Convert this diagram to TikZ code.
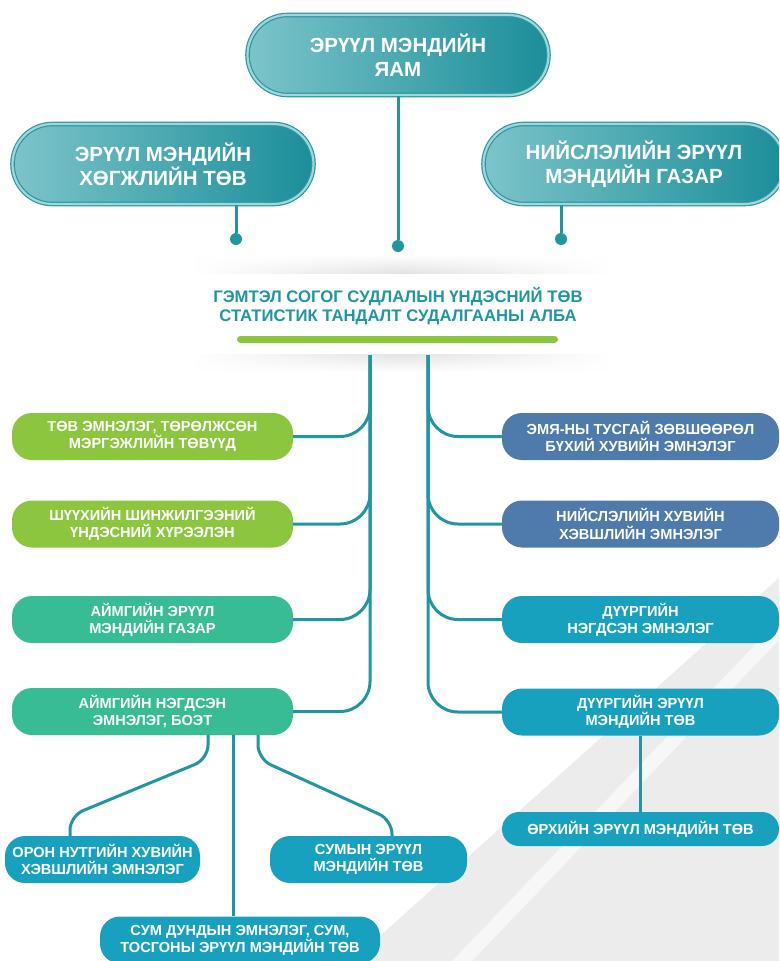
\documentclass[tikz,border=0pt]{standalone}
\usepackage{fontspec}
\setmainfont{Liberation Sans}
\usetikzlibrary{fadings}
\definecolor{lineteal}{HTML}{2196A1}
\definecolor{headdark}{HTML}{1B8E99}
\definecolor{headlight}{HTML}{7CC4CA}
\definecolor{headedge}{HTML}{2A98A3}
\definecolor{boxlime}{HTML}{8CC63F}
\definecolor{boxsea}{HTML}{37BC96}
\definecolor{boxblue}{HTML}{4F7AAC}
\definecolor{boxcyan}{HTML}{18A1BF}
\definecolor{capteal}{HTML}{1E97A2}
\definecolor{bggray}{HTML}{ECECEC}
\tikzfading[name=fade sides, left color=transparent!100,
            right color=transparent!100, middle color=transparent!0]

\begin{document}
\begin{tikzpicture}[
  x=1pt, y=-1pt,
  hd/.style={rounded corners=40, left color=headlight, right color=headdark,
             draw=headedge, line width=1.2, double=headlight!70!white,
             double distance=2.2, text=white, align=center, inner sep=0,
             font=\fontsize{20.5}{24}\selectfont\bfseries,
             minimum width=301, minimum height=80},
  bx/.style={rounded corners=20, fill=#1, text=white, align=center, inner sep=0,
             font=\fontsize{14.6}{17.3}\selectfont\bfseries,
             minimum width=281, minimum height=47},
  cn/.style={draw=lineteal, line width=3},
  knob/.style={circle, fill=lineteal, inner sep=0, minimum size=12}
]
\useasboundingbox (0,0) rectangle (779,961);
\clip (0,0) rectangle (779,961);
\fill[white] (0,0) rectangle (779,961);
\fill[bggray] (779,578) -- (352,961) -- (779,961) -- cycle;
\fill[white!60!bggray] (779,620) -- (779,640) -- (472,961) -- (452,961) -- cycle;

\shade[top color=white, bottom color=black!11, path fading=fade sides]
  (195,255) rectangle (610,273);
\shade[top color=black!11, bottom color=white, path fading=fade sides]
  (195,354) rectangle (610,372);

\node[hd] (hm) at (398,55)  {ЭРҮҮЛ МЭНДИЙН\\ЯАМ};
\node[hd] (hl) at (163,164) {ЭРҮҮЛ МЭНДИЙН\\ХӨГЖЛИЙН ТӨВ};
\node[hd] (hr) at (634,164) {НИЙСЛЭЛИЙН ЭРҮҮЛ\\МЭНДИЙН ГАЗАР};

\node[knob] (kl) at (236,239) {};
\node[knob] (km) at (398,246) {};
\node[knob] (kr) at (561,239) {};
\draw[cn] (hl.south -| kl) -- (kl);
\draw[cn] (hm) -- (km);
\draw[cn] (hr.south -| kr) -- (kr);

\node[font=\fontsize{16.7}{18.5}\selectfont\bfseries, text=capteal, align=center]
  (ct) at (398,306) {ГЭМТЭЛ СОГОГ СУДЛАЛЫН ҮНДЭСНИЙ ТӨВ\\СТАТИСТИК ТАНДАЛТ СУДАЛГААНЫ АЛБА};
\draw[boxlime, line width=7, line cap=round] (240.5,339) -- (554.5,339);

\node[bx=boxlime] (L1) at (152.5,436.5) {ТӨВ ЭМНЭЛЭГ, ТӨРӨЛЖСӨН\\МЭРГЭЖЛИЙН ТӨВҮҮД};
\node[bx=boxlime] (L2) at (152.5,524)   {ШҮҮХИЙН ШИНЖИЛГЭЭНИЙ\\ҮНДЭСНИЙ ХҮРЭЭЛЭН};
\node[bx=boxsea]  (L3) at (152.5,619.5) {АЙМГИЙН ЭРҮҮЛ\\МЭНДИЙН ГАЗАР};
\node[bx=boxsea]  (L4) at (152.5,711.5) {АЙМГИЙН НЭГДСЭН\\ЭМНЭЛЭГ, БОЭТ};

\node[bx=boxblue, minimum width=277] (R1) at (640.5,436.5) {ЭМЯ-НЫ ТУСГАЙ ЗӨВШӨӨРӨЛ\\БҮХИЙ ХУВИЙН ЭМНЭЛЭГ};
\node[bx=boxblue, minimum width=277] (R2) at (640.5,524)   {НИЙСЛЭЛИЙН ХУВИЙН\\ХЭВШЛИЙН ЭМНЭЛЭГ};
\node[bx=boxcyan, minimum width=277] (R3) at (640.5,619.5) {ДҮҮРГИЙН\\НЭГДСЭН ЭМНЭЛЭГ};
\node[bx=boxcyan, minimum width=277] (R4) at (640.5,712)   {ДҮҮРГИЙН ЭРҮҮЛ\\МЭНДИЙН ТӨВ};
\node[bx=boxcyan, minimum width=277, minimum height=34, rounded corners=17]
  (R5) at (640.5,829) {ӨРХИЙН ЭРҮҮЛ МЭНДИЙН ТӨВ};

\node[bx=boxcyan, minimum width=195] (B1) at (102.5,859.5) {ОРОН НУТГИЙН ХУВИЙН\\ХЭВШЛИЙН ЭМНЭЛЭГ};
\node[bx=boxcyan, minimum width=197] (B2) at (368.5,859.5) {СУМЫН ЭРҮҮЛ\\МЭНДИЙН ТӨВ};
\node[bx=boxcyan, minimum width=280] (B3) at (240,940) {СУМ ДУНДЫН ЭМНЭЛЭГ, СУМ,\\ТОСГОНЫ ЭРҮҮЛ МЭНДИЙН ТӨВ};

\coordinate (tl) at (370,355);
\coordinate (tr) at (428,355);
\foreach \b in {L1,L2,L3,L4}
  \draw[cn, rounded corners=30] (tl) |- (\b);
\foreach \b in {R1,R2,R3,R4}
  \draw[cn, rounded corners=30] (tr) |- (\b);
\draw[cn] (R4) -- (R5);

\draw[cn, rounded corners=14] ([xshift=55.5]L4.south) -- (208,759) -- (70,816)
  -- ([xshift=-32.5]B1.north);
\draw[cn] ([xshift=80.5]L4.south) -- ([xshift=-7]B3.north);
\draw[cn, rounded corners=14] ([xshift=105.5]L4.south) -- (258,759) -- (392,820)
  -- ([xshift=23.5]B2.north);
\end{tikzpicture}
\end{document}
